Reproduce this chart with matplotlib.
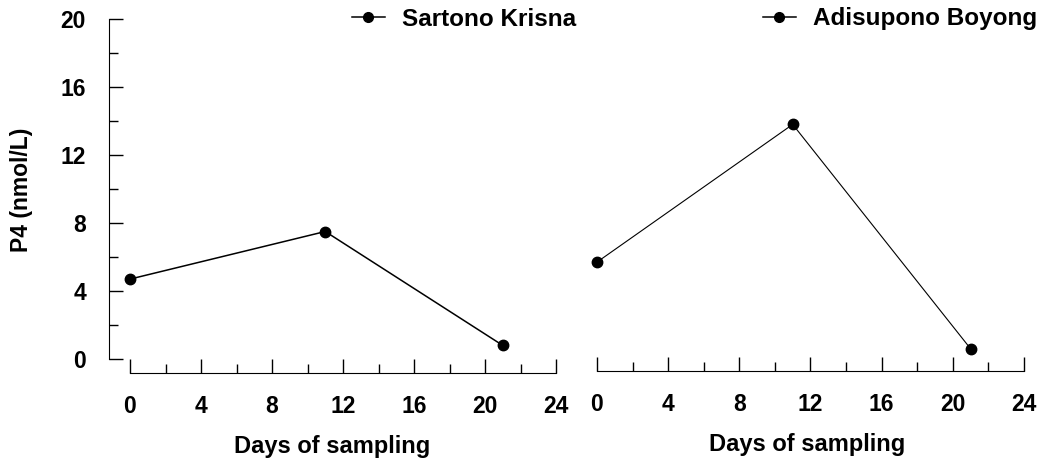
import matplotlib.pyplot as plt
from matplotlib.lines import Line2D

plt.rcParams['font.family'] = ['Liberation Sans', 'DejaVu Sans']
plt.rcParams['font.weight'] = 'bold'

# P4 concentration per sampling day
dias = [0, 11, 21]
sartono = [4.7, 7.5, 0.8]
adisupono = [5.7, 13.8, 0.6]

x_ticks = [0, 4, 8, 12, 16, 20, 24]
y_ticks = [0, 4, 8, 12, 16, 20]

W, H = 1042, 462
fig = plt.figure(figsize=(W / 100, H / 100), dpi=100)


def caja(x0, x1, y_top, y_bot):
    return [x0 / W, (H - y_bot) / H, (x1 - x0) / W, (y_bot - y_top) / H]


def eje_x(ax):
    ax.spines['bottom'].set_bounds(0, 24)
    ax.spines['top'].set_visible(False)
    ax.spines['right'].set_visible(False)
    ax.set_xticks(x_ticks)
    ax.set_xticks(range(2, 24, 4), minor=True)
    ax.tick_params(axis='x', which='major', direction='in', length=10, width=1,
                   pad=16, labelsize=16.5)
    ax.tick_params(axis='x', which='minor', direction='in', length=6.5, width=1)
    ax.set_xlabel('Days of sampling', fontsize=17, fontweight='bold', labelpad=12)


# panel izquierdo
ax1 = fig.add_axes(caja(109, 556, 19, 373))
ax1.plot(dias, sartono, color='black', lw=1.1, marker='o', ms=7.5, clip_on=False)
ax1.set_xlim(-21 / 17.75, 24)
ax1.set_ylim(-14 / 17, 20)
eje_x(ax1)
ax1.spines['left'].set_bounds(0, 20)
ax1.set_yticks(y_ticks)
ax1.set_yticks(range(2, 20, 4), minor=True)
ax1.tick_params(axis='y', which='major', direction='in', length=10, width=1,
                pad=16.5, labelsize=16.5)
ax1.tick_params(axis='y', which='minor', direction='in', length=6.5, width=1)
ax1.set_ylabel('P4 (nmol/L)', fontsize=16.5, fontweight='bold')
ax1.yaxis.set_label_coords(-76 / 447, 0.517)

# panel derecho
ax2 = fig.add_axes(caja(590, 1024, 19, 371))
ax2.plot(dias, adisupono, color='black', lw=0.8, marker='o', ms=7.5, clip_on=False)
ax2.set_xlim(-7 / 17.8, 24)
ax2.set_ylim(-12 / 17, 20)
eje_x(ax2)
ax2.spines['left'].set_visible(False)
ax2.set_yticks([])

# leyendas
for nombre, x_leg in [('Sartono Krisna', 352), ('Adisupono Boyong', 763)]:
    h = Line2D([], [], color='black', lw=1.1, marker='o', ms=7)
    fig.legend([h], [nombre], loc='center left', bbox_to_anchor=(x_leg / W, (H - 19) / H),
               frameon=False, borderpad=0, borderaxespad=0, handlelength=1.35,
               handletextpad=0.7, prop={'size': 17.5, 'weight': 'bold'})

fig.savefig('out.png', dpi=100)
